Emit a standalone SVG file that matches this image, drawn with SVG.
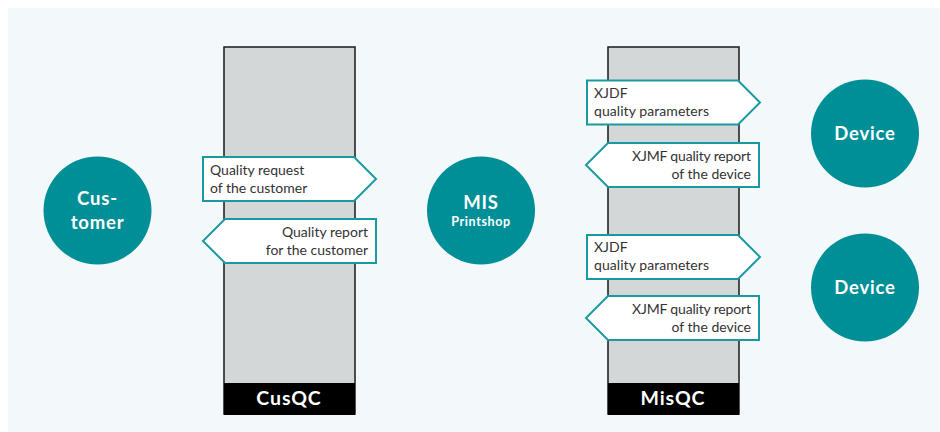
<svg xmlns="http://www.w3.org/2000/svg" width="940" height="432" viewBox="0 0 940 432">
<style>
.col{fill:#d3d7d8;stroke:#1a1a1a;stroke-width:1.5}
.bar{fill:#000}
.bar-t{font:700 19.500px Lato,"Liberation Sans",sans-serif;letter-spacing:.9px;fill:#fff;text-anchor:middle}
.c{fill:#008f97}
.n{font:700 18.500px Lato,"Liberation Sans",sans-serif;letter-spacing:.8px;fill:#fff;text-anchor:middle}
.s{font:700 12.500px Lato,"Liberation Sans",sans-serif;letter-spacing:.6px;fill:#fff;text-anchor:middle}
.tag{fill:#fff;stroke:#1b99a1;stroke-width:2}
.t{font:14px Lato,"Liberation Sans",sans-serif;fill:#333}
.e{text-anchor:end}
</style>
<rect width="940" height="432" fill="#fff"/>
<rect x="8" y="8" width="932" height="424" fill="#f3f9fb"/>
<g id="cusqc">
<rect class="col" x="224" y="47" width="131" height="367"/>
<rect class="bar" x="224" y="383" width="131" height="32"/>
<text class="bar-t" x="289" y="405">CusQC</text>
</g>
<g id="misqc">
<rect class="col" x="608" y="47" width="131" height="367"/>
<rect class="bar" x="608" y="383" width="131" height="32"/>
<text class="bar-t" x="673" y="405">MisQC</text>
</g>
<g id="customer"><circle class="c" cx="97.500" cy="210.500" r="54"/><text class="n" x="97.500" y="205">Cus-</text><text class="n" x="97.500" y="229">tomer</text></g>
<g id="mis"><circle class="c" cx="481" cy="210.500" r="54"/><text class="n" x="481" y="209">MIS</text><text class="s" x="481" y="226">Printshop</text></g>
<g id="device1"><circle class="c" cx="865" cy="133.500" r="54"/><text class="n" x="865" y="140">Device</text></g>
<g id="device2"><circle class="c" cx="865" cy="287.500" r="54"/><text class="n" x="865" y="294">Device</text></g>
<g id="connectors"></g>
<g id="tag-request"><path class="tag" d="M203 157H354L376 179L354 201H203Z"/><text class="t" x="210" y="175">Quality request</text><text class="t" x="210" y="193">of the customer</text></g>
<g id="tag-report"><path class="tag" d="M376 219V263H225L203 241L225 219Z"/><text class="t e" x="368" y="237">Quality report</text><text class="t e" x="368" y="255">for the customer</text></g>
<g id="tag-xjdf1"><path class="tag" d="M587 80.500H738L760 102.500L738 124.500H587Z"/><text class="t" x="594" y="98">XJDF</text><text class="t" x="594" y="116" textLength="115">quality parameters</text></g>
<g id="tag-xjmf1"><path class="tag" d="M759 143V187H608L586 165L608 143Z"/><text class="t e" x="751" y="161" textLength="119">XJMF quality report</text><text class="t e" x="751" y="179">of the device</text></g>
<g id="tag-xjdf2"><path class="tag" d="M587 235H738L760 257L738 279H587Z"/><text class="t" x="594" y="252">XJDF</text><text class="t" x="594" y="270" textLength="115">quality parameters</text></g>
<g id="tag-xjmf2"><path class="tag" d="M759 296V340H608L586 318L608 296Z"/><text class="t e" x="751" y="314" textLength="119">XJMF quality report</text><text class="t e" x="751" y="332">of the device</text></g>
</svg>
